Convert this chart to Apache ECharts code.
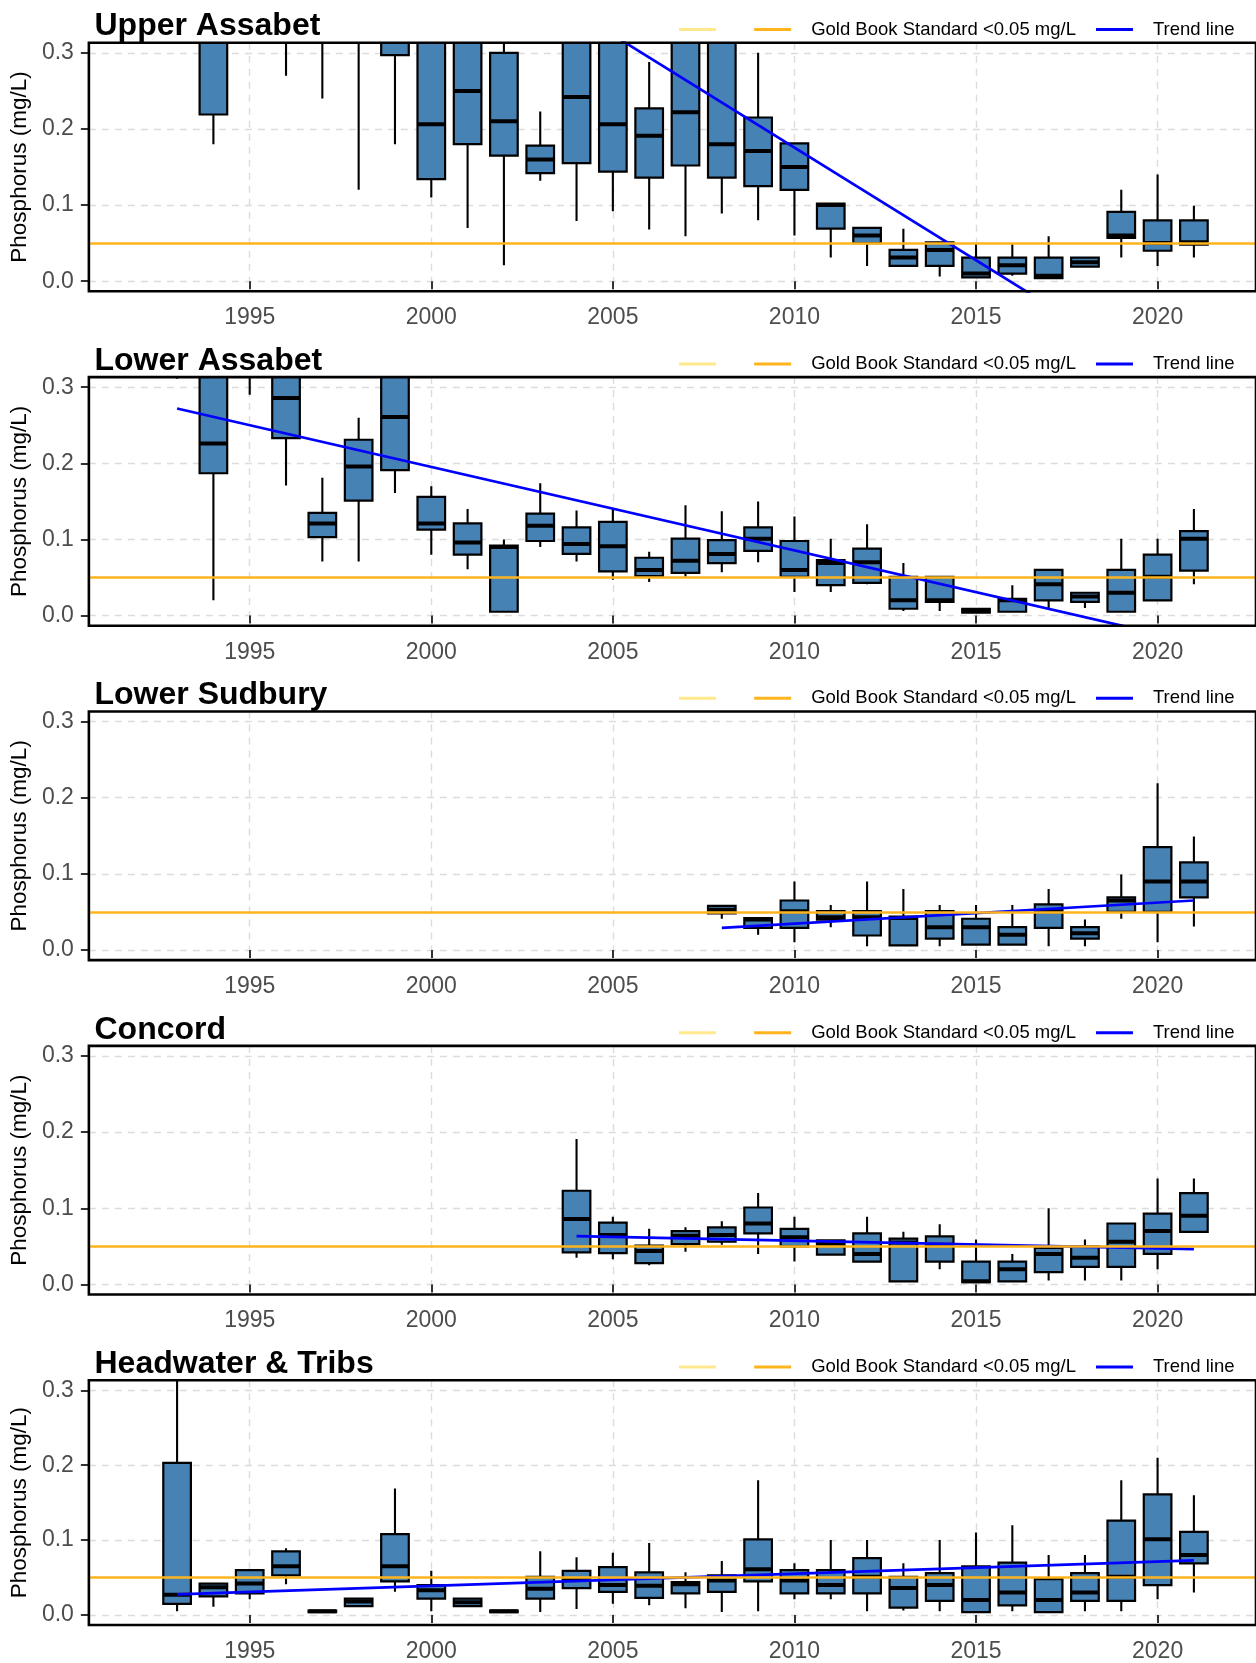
<!DOCTYPE html>
<html>
<head>
<meta charset="utf-8">
<title>Phosphorus by reach</title>
<script src="https://cdn.jsdelivr.net/npm/echarts@6/dist/echarts.min.js"></script>
<style>
  html, body { margin: 0; padding: 0; background: #fff; }
  #chart { width: 1256px; height: 1663px; }
</style>
</head>
<body>
<div id="chart"></div>
<script>
// Box statistics per year: [year, lower whisker, Q1, median, Q3, upper whisker] (mg/L)
const upperAssabet = [
  [1994, 0.180, 0.219, 0.360, 0.440, 0.620],
  [1996, 0.270, 0.340, 0.400, 0.480, 0.600],
  [1997, 0.240, 0.330, 0.380, 0.450, 0.580],
  [1998, 0.120, 0.330, 0.400, 0.500, 0.700],
  [1999, 0.180, 0.297, 0.340, 0.400, 0.520],
  [2000, 0.110, 0.134, 0.206, 0.330, 0.500],
  [2001, 0.070, 0.180, 0.250, 0.330, 0.460],
  [2002, 0.021, 0.165, 0.210, 0.300, 0.360],
  [2003, 0.132, 0.142, 0.160, 0.178, 0.223],
  [2004, 0.079, 0.155, 0.242, 0.340, 0.480],
  [2005, 0.092, 0.144, 0.206, 0.330, 0.460],
  [2006, 0.068, 0.136, 0.191, 0.227, 0.288],
  [2007, 0.059, 0.152, 0.222, 0.340, 0.500],
  [2008, 0.089, 0.136, 0.180, 0.330, 0.450],
  [2009, 0.080, 0.125, 0.171, 0.215, 0.300],
  [2010, 0.060, 0.120, 0.150, 0.181, 0.181],
  [2011, 0.031, 0.069, 0.100, 0.102, 0.102],
  [2012, 0.020, 0.050, 0.060, 0.070, 0.070],
  [2013, 0.020, 0.020, 0.031, 0.041, 0.069],
  [2014, 0.006, 0.020, 0.041, 0.051, 0.051],
  [2015, 0.005, 0.005, 0.010, 0.031, 0.050],
  [2016, 0.007, 0.010, 0.021, 0.031, 0.050],
  [2017, 0.004, 0.004, 0.007, 0.031, 0.059],
  [2018, 0.019, 0.019, 0.025, 0.031, 0.031],
  [2019, 0.031, 0.057, 0.060, 0.091, 0.120],
  [2020, 0.020, 0.040, 0.050, 0.080, 0.140],
  [2021, 0.031, 0.048, 0.051, 0.080, 0.099]
];
const lowerAssabet = [
  [1993, 0.311, 0.340, 0.400, 0.480, 0.600],
  [1994, 0.020, 0.187, 0.226, 0.330, 0.500],
  [1995, 0.290, 0.330, 0.380, 0.450, 0.550],
  [1996, 0.171, 0.233, 0.286, 0.330, 0.420],
  [1997, 0.071, 0.103, 0.121, 0.135, 0.181],
  [1998, 0.071, 0.151, 0.196, 0.231, 0.260],
  [1999, 0.161, 0.191, 0.261, 0.330, 0.450],
  [2000, 0.080, 0.113, 0.121, 0.156, 0.170],
  [2001, 0.061, 0.080, 0.096, 0.121, 0.140],
  [2002, 0.005, 0.005, 0.090, 0.092, 0.100],
  [2003, 0.090, 0.098, 0.118, 0.134, 0.174],
  [2004, 0.071, 0.081, 0.094, 0.116, 0.138],
  [2005, 0.047, 0.058, 0.091, 0.123, 0.141],
  [2006, 0.044, 0.052, 0.060, 0.076, 0.084],
  [2007, 0.051, 0.056, 0.072, 0.101, 0.145],
  [2008, 0.057, 0.069, 0.081, 0.099, 0.137],
  [2009, 0.070, 0.085, 0.101, 0.116, 0.150],
  [2010, 0.031, 0.051, 0.060, 0.098, 0.130],
  [2011, 0.031, 0.040, 0.069, 0.073, 0.101],
  [2012, 0.041, 0.043, 0.070, 0.088, 0.120],
  [2013, 0.006, 0.009, 0.020, 0.051, 0.069],
  [2014, 0.006, 0.018, 0.020, 0.051, 0.051],
  [2015, 0.004, 0.004, 0.006, 0.009, 0.009],
  [2016, 0.005, 0.005, 0.020, 0.022, 0.040],
  [2017, 0.010, 0.020, 0.041, 0.060, 0.060],
  [2018, 0.010, 0.018, 0.025, 0.030, 0.030],
  [2019, 0.005, 0.005, 0.030, 0.060, 0.101],
  [2020, 0.020, 0.020, 0.051, 0.080, 0.101],
  [2021, 0.041, 0.059, 0.101, 0.111, 0.140]
];
const lowerSudbury = [
  [2008, 0.041, 0.048, 0.053, 0.058, 0.058],
  [2009, 0.020, 0.029, 0.040, 0.042, 0.042],
  [2010, 0.010, 0.029, 0.051, 0.065, 0.090],
  [2011, 0.030, 0.040, 0.043, 0.051, 0.059],
  [2012, 0.005, 0.019, 0.043, 0.051, 0.090],
  [2013, 0.006, 0.006, 0.042, 0.044, 0.080],
  [2014, 0.005, 0.015, 0.030, 0.051, 0.059],
  [2015, 0.007, 0.007, 0.030, 0.041, 0.059],
  [2016, 0.007, 0.007, 0.020, 0.030, 0.059],
  [2017, 0.005, 0.029, 0.051, 0.060, 0.080],
  [2018, 0.005, 0.015, 0.022, 0.030, 0.040],
  [2019, 0.041, 0.050, 0.065, 0.069, 0.099],
  [2020, 0.010, 0.050, 0.090, 0.135, 0.219],
  [2021, 0.031, 0.069, 0.090, 0.115, 0.149]
];
const concord = [
  [2004, 0.035, 0.042, 0.086, 0.123, 0.191],
  [2005, 0.033, 0.041, 0.065, 0.081, 0.089],
  [2006, 0.025, 0.028, 0.044, 0.051, 0.073],
  [2007, 0.043, 0.053, 0.064, 0.070, 0.075],
  [2008, 0.052, 0.056, 0.065, 0.075, 0.083],
  [2009, 0.040, 0.067, 0.080, 0.101, 0.120],
  [2010, 0.030, 0.050, 0.062, 0.073, 0.089],
  [2011, 0.039, 0.039, 0.053, 0.058, 0.058],
  [2012, 0.030, 0.030, 0.040, 0.067, 0.089],
  [2013, 0.004, 0.004, 0.055, 0.060, 0.069],
  [2014, 0.020, 0.030, 0.052, 0.063, 0.079],
  [2015, 0.003, 0.003, 0.004, 0.030, 0.059],
  [2016, 0.004, 0.004, 0.020, 0.030, 0.040],
  [2017, 0.005, 0.016, 0.040, 0.048, 0.100],
  [2018, 0.005, 0.023, 0.035, 0.050, 0.059],
  [2019, 0.005, 0.023, 0.056, 0.080, 0.080],
  [2020, 0.020, 0.040, 0.070, 0.093, 0.139],
  [2021, 0.069, 0.069, 0.090, 0.120, 0.139]
];
const headwaterTribs = [
  [1993, 0.005, 0.015, 0.027, 0.203, 0.400],
  [1994, 0.011, 0.025, 0.037, 0.042, 0.042],
  [1995, 0.021, 0.029, 0.042, 0.060, 0.060],
  [1996, 0.041, 0.053, 0.065, 0.085, 0.089],
  [1997, 0.004, 0.004, 0.005, 0.006, 0.006],
  [1998, 0.011, 0.012, 0.018, 0.022, 0.022],
  [1999, 0.031, 0.045, 0.065, 0.108, 0.169],
  [2000, 0.005, 0.022, 0.033, 0.040, 0.059],
  [2001, 0.011, 0.012, 0.017, 0.022, 0.022],
  [2002, 0.004, 0.004, 0.005, 0.006, 0.006],
  [2003, 0.004, 0.022, 0.035, 0.051, 0.085],
  [2004, 0.008, 0.036, 0.048, 0.059, 0.077],
  [2005, 0.015, 0.031, 0.040, 0.064, 0.083],
  [2006, 0.013, 0.023, 0.039, 0.057, 0.096],
  [2007, 0.009, 0.029, 0.041, 0.044, 0.057],
  [2008, 0.004, 0.031, 0.046, 0.053, 0.072],
  [2009, 0.005, 0.045, 0.061, 0.101, 0.180],
  [2010, 0.021, 0.029, 0.046, 0.060, 0.069],
  [2011, 0.021, 0.029, 0.040, 0.060, 0.100],
  [2012, 0.005, 0.029, 0.051, 0.076, 0.100],
  [2013, 0.006, 0.010, 0.036, 0.051, 0.069],
  [2014, 0.005, 0.019, 0.040, 0.056, 0.100],
  [2015, 0.004, 0.004, 0.020, 0.065, 0.110],
  [2016, 0.005, 0.013, 0.030, 0.070, 0.120],
  [2017, 0.004, 0.004, 0.020, 0.048, 0.080],
  [2018, 0.005, 0.019, 0.030, 0.056, 0.080],
  [2019, 0.005, 0.019, 0.051, 0.126, 0.180],
  [2020, 0.021, 0.040, 0.101, 0.161, 0.210],
  [2021, 0.030, 0.069, 0.080, 0.111, 0.160]
];

// Fitted linear trend end points: [year, mg/L]
const upperAssabetTrend = [[1994, 0.649], [2021, -0.150]];
const lowerAssabetTrend = [[1993, 0.272], [2021, -0.035]];
const lowerSudburyTrend = [[2008, 0.029], [2021, 0.065]];
const concordTrend = [[2004, 0.0634], [2021, 0.0463]];
const headwaterTribsTrend = [[1993, 0.0277], [2021, 0.0729]];

const panelTitles = ['Upper Assabet', 'Lower Assabet', 'Lower Sudbury', 'Concord', 'Headwater & Tribs'];
const panelBoxes = [upperAssabet, lowerAssabet, lowerSudbury, concord, headwaterTribs];
const panelTrends = [upperAssabetTrend, lowerAssabetTrend, lowerSudburyTrend, concordTrend, headwaterTribsTrend];

const GOLD_BOOK_STANDARD = 0.05;
const xTickYears = [1995, 2000, 2005, 2010, 2015, 2020];
const yTickValues = [0, 0.1, 0.2, 0.3];

// Axis extents and layout
const X_MIN = 1990.571, X_MAX = 2022.71;
const Y_MIN = -0.0133, Y_MAX = 0.3133;
const BOX_WIDTH = 0.76;
const PANEL_TOP = 42.7, PANEL_STEP = 334.4, PANEL_HEIGHT = 248.6;
const FONT = '"Liberation Sans", Arial, sans-serif';

const NAME_BLANK = '\u00a0';
const NAME_GOLD = 'Gold Book Standard <0.05 mg/L';
const NAME_TREND = 'Trend line';
const COLOR_BLANK = '#FFE98C';
const COLOR_GOLD = '#FFB41E';
const COLOR_TREND = '#0000FF';
const COLOR_BOX = '#4682B4';

function renderBox(params, api) {
  const year = api.value(0);
  const lo = api.coord([year, api.value(1)]);
  const q1 = api.coord([year, api.value(2)]);
  const md = api.coord([year, api.value(3)]);
  const q3 = api.coord([year, api.value(4)]);
  const hi = api.coord([year, api.value(5)]);
  const hw = api.size([BOX_WIDTH, 0])[0] / 2;
  const stroke = { stroke: '#000', lineWidth: 2.1 };
  return {
    type: 'group',
    children: [
      { type: 'line', shape: { x1: lo[0], y1: lo[1], x2: q1[0], y2: q1[1] }, style: stroke },
      { type: 'line', shape: { x1: q3[0], y1: q3[1], x2: hi[0], y2: hi[1] }, style: stroke },
      { type: 'rect', shape: { x: q1[0] - hw, y: q3[1], width: 2 * hw, height: q1[1] - q3[1] },
        style: { fill: COLOR_BOX, stroke: '#000', lineWidth: 2.2 } },
      { type: 'line', shape: { x1: md[0] - hw, y1: md[1], x2: md[0] + hw, y2: md[1] },
        style: { stroke: '#000', lineWidth: 4 } }
    ]
  };
}

const grids = [], xAxes = [], yAxes = [], titles = [], legends = [], series = [];

panelTitles.forEach((name, i) => {
  const top = PANEL_TOP + PANEL_STEP * i;
  grids.push({
    left: 86.5, right: -12, top: top, height: PANEL_HEIGHT,
    show: true, borderColor: '#000', borderWidth: 2.6,
    backgroundColor: 'transparent', z: 10
  });
  titles.push({
    text: name, left: 94.5, top: 10.5 + PANEL_STEP * i, padding: 0,
    textStyle: { fontFamily: FONT, fontSize: 32, fontWeight: 'bold', color: '#000' }
  });
  legends.push({
    left: 679, top: 20 + PANEL_STEP * i, padding: 0,
    icon: 'rect', itemWidth: 37, itemHeight: 3, itemGap: 20,
    selectedMode: false,
    textStyle: { fontFamily: FONT, fontSize: 18.5, color: '#000', padding: [0, 0, 0, 15] },
    data: [
      { name: NAME_BLANK, textStyle: { padding: [0, 0, 0, 8] } },
      { name: NAME_GOLD },
      { name: NAME_TREND }
    ]
  });
  xAxes.push({
    type: 'value', gridIndex: i, min: X_MIN, max: X_MAX, splitNumber: 6,
    axisLine: { show: false },
    axisTick: { show: true, length: 8, customValues: xTickYears,
      lineStyle: { color: '#333', width: 2 } },
    axisLabel: { customValues: xTickYears, margin: 15, color: '#4D4D4D',
      fontFamily: FONT, fontSize: 23, formatter: v => String(v) },
    splitLine: { show: true, lineStyle: { color: '#DCDCDC', width: 1.4, type: [7, 6] } }
  });
  yAxes.push({
    type: 'value', gridIndex: i, min: Y_MIN, max: Y_MAX, splitNumber: 3,
    name: 'Phosphorus (mg/L)', nameLocation: 'middle', nameGap: 51, nameRotate: 90,
    nameTextStyle: { fontFamily: FONT, fontSize: 22.5, color: '#000' },
    axisLine: { show: false },
    axisTick: { show: true, length: 8, customValues: yTickValues,
      lineStyle: { color: '#333', width: 2 } },
    axisLabel: { customValues: yTickValues, margin: 15, color: '#4D4D4D',
      fontFamily: FONT, fontSize: 23, formatter: v => v.toFixed(1) },
    splitLine: { show: true, lineStyle: { color: '#DCDCDC', width: 1.4, type: [7, 6] } }
  });

  // unlabeled legend key
  series.push({
    name: NAME_BLANK, type: 'line', xAxisIndex: i, yAxisIndex: i, data: [],
    color: COLOR_BLANK, lineStyle: { color: COLOR_BLANK }
  });
  // Gold Book standard reference line
  series.push({
    name: NAME_GOLD, type: 'line', xAxisIndex: i, yAxisIndex: i, data: [],
    color: COLOR_GOLD, z: 1,
    markLine: {
      silent: true, symbol: 'none', animation: false,
      label: { show: false },
      lineStyle: { color: COLOR_GOLD, width: 2.6, type: 'solid' },
      data: [{ yAxis: GOLD_BOOK_STANDARD }]
    }
  });
  // yearly boxes
  series.push({
    name: name, type: 'custom', xAxisIndex: i, yAxisIndex: i,
    data: panelBoxes[i], renderItem: renderBox, clip: true, z: 2,
    encode: { x: 0, y: [1, 2, 3, 4, 5] }
  });
  // trend
  series.push({
    name: NAME_TREND, type: 'line', xAxisIndex: i, yAxisIndex: i,
    data: panelTrends[i], showSymbol: false, symbol: 'none', clip: true, z: 3,
    color: COLOR_TREND, lineStyle: { color: COLOR_TREND, width: 2.7 }
  });
});

const chart = echarts.init(document.getElementById('chart'), null, { renderer: 'canvas' });
chart.setOption({
  animation: false,
  backgroundColor: '#fff',
  title: titles,
  legend: legends,
  grid: grids,
  xAxis: xAxes,
  yAxis: yAxes,
  series: series
});
</script>
</body>
</html>
